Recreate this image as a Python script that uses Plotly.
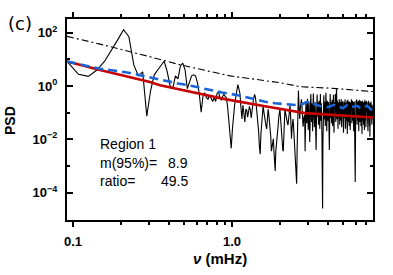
import numpy as np
import plotly.graph_objects as go

# ---------------- data ----------------
# uniform frequency grid of the periodogram (mHz)
f0 = 0.0916
df = 0.0166
n_freq = 459

psd_log10 = [
    0.92, 0.44, 0.36, 0.60, 0.93, 1.34, 1.74, 2.11, 1.85, 0.79,
    0.38, 0.53, -1.13, -0.17, 0.42, 0.60, 0.75, 0.93, 0.56, 0.01,
    -0.10, 0.38, 0.27, 0.75, 0.86, 0.60, -0.10, 0.16, 0.38, 0.42,
    0.38, 0.12, -0.32, -0.98, -0.39, -0.25, -0.43, -0.50, -0.36, -0.47,
    -0.58, -0.43, -0.58, -0.28, -0.21, -0.43, -0.54, -0.39, -0.32, -0.39,
    -0.43, -0.80, -1.35, -1.90, -2.34, -1.64, -0.98, -0.72, -0.43, -0.17,
    0.05, -0.10, -0.28, -0.80, -1.24, -0.72, -0.98, -1.35, -0.87, -0.91,
    -1.17, -0.98, -0.76, -0.91, -1.20, -0.91, -0.61, -0.43, -0.32, -0.43,
    -0.72, -0.98, -1.35, -1.72, -2.27, -2.56, -1.79, -1.35, -0.98, -0.72,
    -0.98, -1.24, -1.35, -1.50, -1.61, -1.17, -0.87, -1.06,
    -1.35, -1.46, -1.90, -2.45, -2.27, -2.01, -1.98, -2.45, -2.90, -3.19, -2.45, -2.09,
    -1.79, -1.57, -1.46, -1.17, -0.98, -0.87, -1.17, -1.53, -1.83, -2.16,
    -2.38, -2.45, -1.53, -1.06, -0.87, -0.98, -1.13, -1.24, -1.35, -1.42,
    -1.46, -1.17, -0.91, -0.76, -0.72, -1.06, -1.53, -1.98, -1.64, -1.35,
    -1.24, -1.42, -1.72, -1.98, -2.09, -2.53, -3.01, -3.37, -3.67, -2.45,
    -1.17, -0.43, -0.17, -0.61, -0.98, -1.24, -0.91, -0.72, -0.58, -0.50,
    -0.69, -0.98, -1.28, -1.53, -1.35, -1.17, -1.09, -1.09,
    -2.45, -1.3, -0.62, -0.95, -1.4, -0.7, -0.48, -1.1, -1.65, -0.9,
    -0.58, -1.25, -2.1, -1.5, -0.75, -0.3, -0.88, -1.35, -0.66, -1.05,
    -1.7, -0.8, -0.28, -0.7, -1.2, -1.55, -0.95, -0.6, -1.0, -1.85,
    -2.4, -1.3, -0.72, -0.32, -0.85, -1.15, -0.62, -1.45, -0.9, -0.55,
    -1.0, -1.6, -0.78, -0.3, -0.92, -1.3, -0.65, -1.1, -2.0, -3.0,
    -4.6, -2.2, -1.1, -0.7, -0.35, -0.85, -1.25, -0.6, -0.95, -1.5,
    -0.8, -0.25, -0.65, -1.05, -1.7, -1.0, -0.55, -0.75, -1.3, -0.9,
    -0.6, -1.15, -1.9, -2.4, -1.6, -0.85, -0.3, -0.7, -1.2, -0.95,
    -0.62, -1.4, -0.8, -0.52, -0.9, -1.5, -1.1, -0.68, -0.33, -1.0,
    -1.75, -0.85, -0.6, -1.05, -0.72, -0.3, -0.9, -1.35, -0.7, -0.35,
    -0.08, -0.6, -1.25, -0.8, -0.55, -1.0, -1.6, -0.92, -0.63, -1.2,
    -0.75, -0.5, -0.88, -1.45, -1.0, -0.6, -0.82, -1.3, -0.7, -0.5,
    -0.95, -1.55, -0.85, -0.62, -1.1, -0.75, -0.55, -1.0, -1.4, -1.75,
    -1.5, -0.9, -0.6, -0.8, -1.2, -0.68, -0.5, -0.95, -1.6, -1.0,
    -0.65, -0.85, -1.3, -0.72, -0.55, -1.05, -1.8, -1.1, -0.7, -0.52,
    -0.9, -1.35, -0.78, -0.6, -1.0, -1.5, -0.85, -0.58, -0.8, -1.2,
    -1.65, -0.95, -0.62, -0.75, -1.1, -0.7, -0.5, -0.88, -1.4, -1.0,
    -0.7, -0.55, -0.9, -1.3, -0.8, -0.6, -1.05, -1.7, -1.15, -0.72,
    -0.58, -1.0, -1.6, -2.4, -3.2, -3.6, -2.6, -1.4, -0.8, -0.55,
    -0.75, -1.1, -0.68, -0.5, -0.92, -1.45, -0.85, -0.62, -1.0, -1.3,
    -0.78, -0.56, -0.85, -1.2, -1.7, -1.0, -0.66, -0.52, -0.9, -1.35,
    -0.8, -0.6, -1.05, -0.72, -0.55, -0.95, -1.5, -1.1, -0.7, -0.58,
    -0.85, -1.25, -1.8, -1.0, -0.68, -0.55, -0.9, -1.3, -0.8, -0.62,
    -1.0, -1.45, -0.88, -0.6, -0.75, -1.15, -1.65, -0.95, -0.65, -0.52,
    -0.88, -1.3, -0.78, -0.6, -1.0, -1.55, -1.05, -0.7, -0.56, -0.9,
    -1.2, -0.75, -0.6, -0.95, -1.4, -0.85, -0.62, -1.1, -1.7, -1.0,
    -0.7, -0.55, -0.85, -1.25, -0.8, -0.62, -1.0, -1.5, -1.05, -1.3,
    -1.9, -1.6, -0.9, -0.65, -0.8, -1.15, -0.7, -0.58, -0.95, -1.35,
    -0.85, -0.65, -1.0, -1.45, -0.9, -0.7, -1.1, -0.8, -1.25, -0.95,
    -1.1,
]

# fitted background model (red)
model_freq = [0.0916, 0.1477, 0.3048, 0.3524, 0.4708, 0.903, 1.612, 2.876, 4.775, 7.70]
model_log10 = [0.921, 0.601, 0.148, 0.031, -0.135, -0.492, -0.761, -1.018, -1.103, -1.184]

# 95% confidence level (black dash-dot)
conf_freq = [0.0916, 0.1477, 0.3048, 0.4708, 0.971, 2.003, 2.676, 4.573, 7.70]
conf_log10 = [1.863, 1.573, 1.098, 0.796, 0.380, 0.123, -0.025, -0.098, -0.209]

# smoothed spectrum (blue dashed)
smooth_freq = [0.0916, 0.1477, 0.2185, 0.3523, 0.4571, 0.5600, 0.6960, 0.8646, 1.090,
               1.354, 1.612, 1.863, 2.315, 2.676, 2.919, 3.093, 3.373, 3.680, 4.013,
               4.377, 4.639, 4.986, 5.284, 5.600, 6.108, 6.471, 7.060, 7.374, 7.700]
smooth_log10 = [0.921, 0.649, 0.509, 0.233, 0.097, 0.001, -0.124, -0.245, -0.345,
                -0.492, -0.588, -0.650, -0.705, -0.724, -0.613, -0.577, -0.705, -0.779, -0.798,
                -0.705, -0.761, -0.834, -0.724, -0.798, -0.742, -0.834, -0.742, -0.834, -0.945]

region_label = "Region 1"
m95 = "8.9"
ratio = "49.5"

x_major = [0.1, 1.0]
x_major_text = ["0.1", "1.0"]
x_minor = [0.2, 0.3, 0.4, 0.5, 0.6, 0.7, 0.8, 0.9, 2, 3, 4, 5, 6, 7]
y_major = [1e-4, 1e-2, 1, 1e2]
y_major_text = ["10<sup>\u22124</sup>", "10<sup>\u22122</sup>", "10<sup>0</sup>", "10<sup>2</sup>"]
y_minor = [1e-3, 1e-1, 10]

# ---------------- figure ----------------
freq = f0 + df * np.arange(n_freq)
psd = 10 ** np.array(psd_log10)

fig = go.Figure()
fig.add_trace(go.Scatter(x=freq, y=psd, mode="lines",
                         line=dict(color="black", width=1.1)))
fig.add_trace(go.Scatter(x=conf_freq, y=10 ** np.array(conf_log10), mode="lines",
                         line=dict(color="black", width=1.1, dash="7px,3px,2px,3px")))
fig.add_trace(go.Scatter(x=model_freq, y=10 ** np.array(model_log10), mode="lines",
                         line=dict(color="#c40000", width=2.6)))
fig.add_trace(go.Scatter(x=smooth_freq, y=10 ** np.array(smooth_log10), mode="lines",
                         line=dict(color="#1a64d6", width=2.6, dash="9px,5px")))

axis_font = dict(family="Liberation Sans, Arial, sans-serif", size=13, color="black", weight="bold")

fig.update_xaxes(type="log", range=[np.log10(0.0916), np.log10(7.70)],
                 showline=True, linecolor="black", linewidth=2, mirror="allticks",
                 ticks="outside", ticklen=5, tickwidth=2, tickcolor="black",
                 tickvals=x_major, ticktext=x_major_text, tickfont=axis_font,
                 ticklabelstandoff=3,
                 showgrid=False, zeroline=False,
                 minor=dict(tickvals=x_minor, ticks="outside", ticklen=3, tickwidth=1.5,
                            tickcolor="black", showgrid=False))
fig.update_yaxes(type="log", range=[-5.03, 2.515],
                 showline=True, linecolor="black", linewidth=2, mirror="allticks",
                 ticks="inside", ticklen=6, tickwidth=2, tickcolor="black",
                 tickvals=y_major, ticktext=y_major_text, tickfont=axis_font,
                 ticklabelstandoff=5,
                 showgrid=False, zeroline=False,
                 minor=dict(tickvals=y_minor, ticks="inside", ticklen=3, tickwidth=1.5,
                            tickcolor="black", showgrid=False))

txt_font = dict(family="Liberation Sans, Arial, sans-serif", size=14, color="black")
ann = [
    dict(text="(c)", x=-0.1536, y=0.9756, xanchor="center", yanchor="middle",
         font=dict(family="DejaVu Sans, sans-serif", size=18, color="black")),
    dict(text="<b>PSD</b>", x=-0.1863, y=0.4976, textangle=-90, xanchor="center", yanchor="middle",
         font=dict(family="Liberation Sans, Arial, sans-serif", size=14, color="black")),
    dict(text="<b><i>\u03bd</i> (mHz)</b>", x=0.5, y=-0.19, xanchor="center", yanchor="middle",
         font=dict(family="Liberation Sans, Arial, sans-serif", size=15, color="black")),
    dict(text=region_label, x=0.1013, y=0.3805, xanchor="left", yanchor="middle", font=txt_font),
    dict(text="m(95%)=", x=0.1013, y=0.2829, xanchor="left", yanchor="middle", font=txt_font),
    dict(text=m95, x=0.402, y=0.2829, xanchor="right", yanchor="middle", font=txt_font),
    dict(text="ratio=", x=0.1013, y=0.1951, xanchor="left", yanchor="middle", font=txt_font),
    dict(text=ratio, x=0.402, y=0.1951, xanchor="right", yanchor="middle", font=txt_font),
]
for a in ann:
    a.update(xref="paper", yref="paper", showarrow=False)

fig.update_layout(width=393, height=275,
                  margin=dict(l=67, r=20, t=15, b=55),
                  plot_bgcolor="white", paper_bgcolor="white",
                  showlegend=False, annotations=ann)

fig.write_html("out.html", config={"displayModeBar": False},
               post_script="document.body.style.margin='0';document.body.style.padding='0';")
